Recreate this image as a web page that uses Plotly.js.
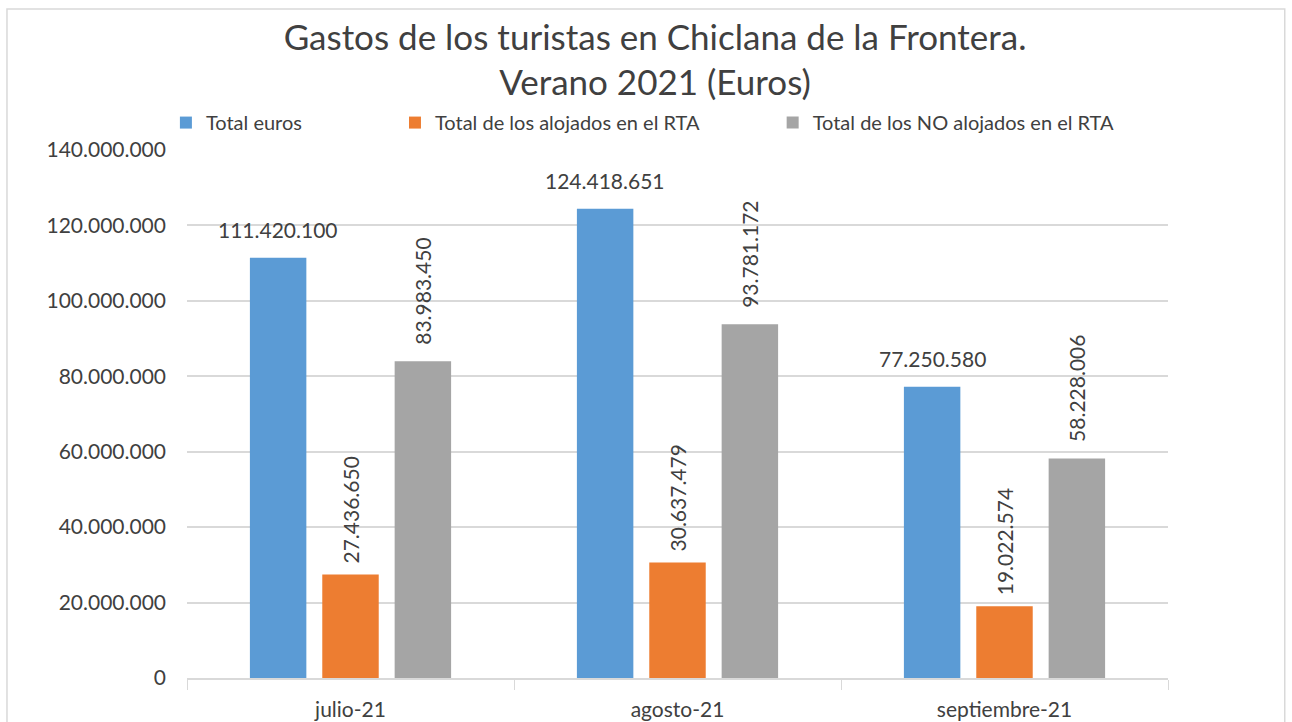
<!DOCTYPE html>
<html><head><meta charset="utf-8">
<script src="https://cdn.plot.ly/plotly-3.0.1.min.js"></script>
<style>html,body{margin:0;padding:0;background:#fff}#chart{width:1292px;height:722px}</style>
</head><body><div id="chart"></div>
<script>
const categories = ["julio-21", "agosto-21", "septiembre-21"];
const seriesNames = ["Total euros", "Total de los alojados en el RTA", "Total de los NO alojados en el RTA"];
const totalEuros = [111420100, 124418651, 77250580];
const alojadosRTA = [27436650, 30637479, 19022574];
const noAlojadosRTA = [83983450, 93781172, 58228006];
const yTickValues = [0, 20000000, 40000000, 60000000, 80000000, 100000000, 120000000, 140000000];

const FONT = "Lato, 'Open Sans', sans-serif";
const TXT = "#404040";
const colors = ["#5B9BD5", "#ED7D31", "#A5A5A5"];
const values = [totalEuros, alojadosRTA, noAlojadosRTA];
const angles = [0, -90, -90];
const xShifts = [-72.5, 0, 72.5];
const yShifts = [14, 9, 14];
const legends = ["legend", "legend2", "legend3"];

function fmt(n) { return String(n).replace(/\B(?=(\d{3})+(?!\d))/g, "."); }

const traces = values.map((v, i) => ({
  type: "bar",
  name: seriesNames[i],
  x: categories,
  y: v,
  marker: {color: colors[i]},
  legend: legends[i],
  hoverinfo: "x+y+name"
}));

const annotations = [];
values.forEach((v, i) => {
  v.forEach((val, j) => {
    annotations.push({
      x: categories[j], y: val, xref: "x", yref: "y",
      text: fmt(val), showarrow: false,
      textangle: angles[i],
      xanchor: "center", yanchor: "bottom",
      xshift: xShifts[i], yshift: yShifts[i],
      font: {family: FONT, size: 21, color: TXT}
    });
  });
});

const legendBase = {orientation: "h", yanchor: "bottom", y: 1.015, xanchor: "left",
  font: {family: FONT, size: 20, color: TXT}, bgcolor: "rgba(0,0,0,0)", itemwidth: 30};
const layout = {
  width: 1292, height: 722,
  margin: {l: 187, r: 124, t: 150, b: 44},
  paper_bgcolor: "#fff", plot_bgcolor: "#fff",
  separators: ",.",
  title: {text: "Gastos de los turistas en Chiclana de la Frontera.<br>Verano 2021 (Euros)",
    font: {family: FONT, size: 35, color: TXT}, x: 0.507, xanchor: "center", y: 0.931, yanchor: "top"},
  barmode: "group", bargap: 0.336, bargroupgap: 0.22,
  showlegend: true,
  legend: Object.assign({}, legendBase, {x: -0.0215}),
  legend2: Object.assign({}, legendBase, {x: 0.212}),
  legend3: Object.assign({}, legendBase, {x: 0.597}),
  xaxis: {type: "category", tickson: "boundaries", ticks: "outside", ticklen: 10, tickcolor: "#d9d9d9",
    showline: true, linecolor: "#d9d9d9", linewidth: 1.5, showgrid: false,
    ticklabelstandoff: 12,
    tickfont: {family: FONT, size: 21, color: TXT}},
  yaxis: {range: [0, 140000000], tickvals: yTickValues, tickformat: ",d",
    gridcolor: "#d9d9d9", gridwidth: 1.5, zeroline: false, showline: false,
    ticklabelstandoff: 20,
    tickfont: {family: FONT, size: 21, color: TXT}},
  annotations: annotations,
  shapes: [{type: "rect", xref: "paper", yref: "paper", x0: -0.1835, x1: 1.119, y0: -0.2, y1: 1.267,
    line: {color: "#d9d9d9", width: 1.5}, fillcolor: "rgba(0,0,0,0)", layer: "below"}]
};
Plotly.newPlot("chart", traces, layout, {displayModeBar: false, responsive: false});
</script></body></html>
